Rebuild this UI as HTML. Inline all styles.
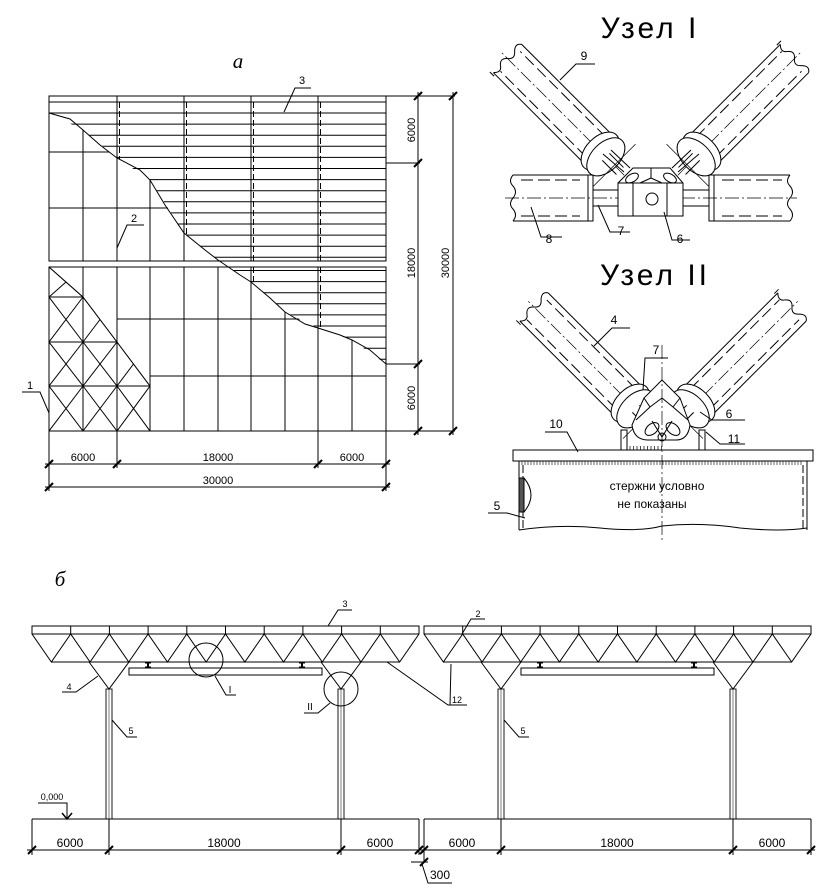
<!DOCTYPE html>
<html><head><meta charset="utf-8"><style>
html,body{margin:0;padding:0;background:#fff}
svg{display:block}
text{font-family:"Liberation Sans",sans-serif;fill:#000}
</style></head><body>
<svg id="s" width="839" height="892" viewBox="0 0 839 892" xmlns="http://www.w3.org/2000/svg" stroke="#000" fill="none" stroke-width="1">
<defs>
<clipPath id="cR"><polygon points="49,96 49,113 83,130 117,158 150,180 184,233 218,260 251,282 285,312 318,328 352,340 386,364 386,96"/></clipPath>
<clipPath id="cL"><polygon points="49,113 83,130 117,158 150,180 184,233 218,260 251,282 285,312 318,328 352,340 386,364 386,431 49,431"/></clipPath>
<clipPath id="cT"><polygon points="49,267 83,297 117,342 150,386 150,431 49,431"/></clipPath>
</defs>
<g id="plan"></g>
<g id="nodes"></g>
<g id="sect"></g>
<g stroke="none" font-size="11">
<text x="238" y="68" style="font-family:'Liberation Serif',serif;font-style:italic" font-size="21" text-anchor="middle">а</text>
<text x="302" y="84" text-anchor="middle">3</text>
<text x="134" y="222" text-anchor="middle">2</text>
<text x="30" y="389" text-anchor="middle">1</text>
<text x="83" y="461" text-anchor="middle">6000</text>
<text x="218" y="461" text-anchor="middle">18000</text>
<text x="352" y="461" text-anchor="middle">6000</text>
<text x="218" y="484" text-anchor="middle">30000</text>
<text transform="translate(415,130) rotate(-90)" text-anchor="middle">6000</text>
<text transform="translate(415,263) rotate(-90)" text-anchor="middle">18000</text>
<text transform="translate(415,398) rotate(-90)" text-anchor="middle">6000</text>
<text transform="translate(449,263) rotate(-90)" text-anchor="middle">30000</text>
<text x="650" y="38" font-size="30" text-anchor="middle" fill="#333" letter-spacing="3">Узел I</text>
<text x="655" y="285" font-size="30" text-anchor="middle" fill="#333" letter-spacing="3">Узел II</text>
<text x="584" y="60" font-size="12" text-anchor="middle">9</text>
<text x="549" y="243" font-size="12" text-anchor="middle">8</text>
<text x="621" y="235" font-size="12" text-anchor="middle">7</text>
<text x="680" y="243" font-size="12" text-anchor="middle">6</text>
<text x="614" y="324" font-size="12" text-anchor="middle">4</text>
<text x="656" y="354" font-size="12" text-anchor="middle">7</text>
<text x="729" y="418" font-size="12" text-anchor="middle">6</text>
<text x="734" y="443" font-size="12" text-anchor="middle">11</text>
<text x="556" y="428" font-size="12" text-anchor="middle">10</text>
<text x="497" y="510" font-size="12" text-anchor="middle">5</text>
<text x="657" y="490" font-size="12" text-anchor="middle">стержни условно</text>
<text x="652" y="508" font-size="12" text-anchor="middle">не показаны</text>
<text x="60" y="586" style="font-family:'Liberation Serif',serif;font-style:italic" font-size="21" text-anchor="middle">б</text>
<text x="345" y="607" font-size="9" text-anchor="middle">3</text>
<text x="478" y="617" font-size="9" text-anchor="middle">2</text>
<text x="69" y="690" font-size="9" text-anchor="middle">4</text>
<text x="131" y="734" font-size="9" text-anchor="middle">5</text>
<text x="523" y="734" font-size="9" text-anchor="middle">5</text>
<text x="230" y="693" font-size="10" text-anchor="middle">I</text>
<text x="310" y="710" font-size="10" text-anchor="middle">II</text>
<text x="457" y="703" font-size="9" text-anchor="middle">12</text>
<text x="52" y="800" font-size="9" text-anchor="middle">0,000</text>
<text x="70" y="847" font-size="12" text-anchor="middle">6000</text>
<text x="224" y="847" font-size="12" text-anchor="middle">18000</text>
<text x="380" y="847" font-size="12" text-anchor="middle">6000</text>
<text x="462" y="847" font-size="12" text-anchor="middle">6000</text>
<text x="617" y="847" font-size="12" text-anchor="middle">18000</text>
<text x="772" y="847" font-size="12" text-anchor="middle">6000</text>
<text x="440" y="879" font-size="12" text-anchor="middle">300</text>
</g>
</svg>
<script>
var NS="http://www.w3.org/2000/svg";
function el(p,tag,a){var e=document.createElementNS(NS,tag);for(var k in a)e.setAttribute(k,a[k]);p.appendChild(e);return e;}
function L(p,x1,y1,x2,y2,ex){var a={x1:x1,y1:y1,x2:x2,y2:y2};if(ex)for(var k in ex)a[k]=ex[k];return el(p,'line',a);}
function tick(p,x,y){L(p,x-4,y+4,x+4,y-4,{'stroke-width':2});}
var plan=document.getElementById('plan');
el(plan,'rect',{x:49,y:96,width:337,height:165});
el(plan,'rect',{x:49,y:267,width:337,height:164});
L(plan,49,102,386,102);
var gR=el(plan,'g',{'clip-path':'url(#cR)'});
for(var y=113;y<258;y+=11.1)L(gR,49,y,386,y);
for(var y=270.5;y<430;y+=11.1)L(gR,49,y,386,y);
[119.5,186.5,253.5,320.5].forEach(function(x){L(gR,x,102,x,261,{'stroke-dasharray':'6,3'});L(gR,x,267,x,431,{'stroke-dasharray':'6,3'});});
var gL=el(plan,'g',{'clip-path':'url(#cL)'});
[83,150,218,285,352].forEach(function(x){L(gL,x,96,x,261);L(gL,x,267,x,431);});
[152,208].forEach(function(y){L(gL,49,y,386,y);});
L(gL,117,319,386,319);L(gL,150,376,386,376);
[117,184,251,318].forEach(function(x){L(plan,x,96,x,261);L(plan,x,267,x,431);});
el(plan,'polyline',{points:"49,113 70,119 83,130 100,145 117,158 140,170 150,180 165,205 184,233 205,250 218,260 240,275 251,282 270,298 285,312 305,324 318,328 340,335 352,340 370,350 386,364"});
var gT=el(plan,'g',{'clip-path':'url(#cT)'});
var xs=[49,83,117,150],ys=[267,297,342,386,431];
for(var i=0;i<3;i++)for(var j=0;j<4;j++){L(gT,xs[i],ys[j],xs[i+1],ys[j+1]);L(gT,xs[i+1],ys[j],xs[i],ys[j+1]);}
[297,342,386].forEach(function(y){L(gT,49,y,150,y);});
el(plan,'polyline',{points:"49,267 83,297 117,342 150,386 150,431"});
el(plan,'polyline',{points:"284,112 295,88 311,88"});
el(plan,'polyline',{points:"117,248 127,225 144,225"});
el(plan,'polyline',{points:"49,413 40,392 22,392"});
[96,163,364,431].forEach(function(y){L(plan,386,y,420,y);tick(plan,418,y);});
L(plan,418,92,418,435);L(plan,386,96,455,96);L(plan,386,431,455,431);L(plan,453,92,453,435);tick(plan,453,96);tick(plan,453,431);
[49,117,318,386].forEach(function(x){L(plan,x,431,x,468);tick(plan,x,464);});
L(plan,45,464,390,464);L(plan,49,431,49,491);L(plan,386,431,386,491);L(plan,45,487,390,487);tick(plan,49,487);tick(plan,386,487);

var nd=document.getElementById('nodes');
function tube(cx,cy,deg,len){
 var g=el(nd,'g',{transform:'translate('+cx+','+cy+') rotate('+deg+')'});
 L(g,0,-20,len,-20);L(g,0,20,len,20);
 L(g,10,-14,len-4,-14,{'stroke-dasharray':'12,5'});L(g,10,14,len-4,14,{'stroke-dasharray':'12,5'});
 L(g,-30,0,len+8,0,{'stroke-dasharray':'14,3,2,3','stroke-width':0.7});
 el(g,'path',{d:'M'+len+',-20 q-6,6 0,10 q6,5 0,10 q-6,5 0,10 q6,6 0,10','fill':'#fff'});
 L(g,len-3,-22,len+3,-22);
 el(g,'ellipse',{cx:4,cy:0,rx:14,ry:23,fill:'#fff'});
 el(g,'ellipse',{cx:-4,cy:0,rx:14,ry:23,fill:'#fff'});
 L(g,-16,-30,-16,30,{'stroke-width':0.7});
 L(g,-4,-5,-24,-5);L(g,-4,5,-24,5);
}
tube(603,154,-135,135);tube(699,154,-45,135);
L(nd,603,154,624,172);L(nd,611,150,630,168);
L(nd,699,154,678,172);L(nd,691,150,672,168);
function htube(x1,x2,wavyX){
 L(nd,x1,175,x2,175);L(nd,x1,221,x2,221);
 L(nd,x1+8,180,x2-8,180,{'stroke-dasharray':'12,5'});L(nd,x1+8,216,x2-8,216,{'stroke-dasharray':'12,5'});
 el(nd,'path',{d:'M'+wavyX+',175 q-5,6 0,11 q5,6 0,12 q-5,6 0,11 q5,6 0,12'});
}
htube(513,588,513);htube(714,790,790);
el(nd,'rect',{x:588,y:175,width:5,height:46});el(nd,'rect',{x:709,y:175,width:5,height:46});
L(nd,593,190,618,190);L(nd,593,206,618,206);L(nd,683,190,709,190);L(nd,683,206,709,206);
L(nd,505,198,797,198,{'stroke-dasharray':'14,3,2,3','stroke-width':0.7});
el(nd,'polygon',{points:"633,168 670,168 683,183 683,216 618,216 618,183",fill:'#fff'});
L(nd,618,183,683,183);L(nd,633,183,633,216);L(nd,667,183,667,216);L(nd,651,168,651,178);L(nd,651,178,640,183);L(nd,651,178,662,183);
el(nd,'ellipse',{cx:632,cy:178,rx:7,ry:4,transform:'rotate(-30 632 178)'});
el(nd,'ellipse',{cx:670,cy:178,rx:7,ry:4,transform:'rotate(30 670 178)'});
el(nd,'circle',{cx:652,cy:199,r:6});
el(nd,'polyline',{points:"560,80 576,64 595,64"});
el(nd,'polyline',{points:"531,207 541,237 562,237"});
el(nd,'polyline',{points:"598,205 610,232 630,232"});
el(nd,'polyline',{points:"664,212 672,240 690,240"});
tube(633,406,-135,140);tube(693,406,-45,140);
el(nd,'path',{d:"M662,380 L680,398 L690,425 Q688,440 676,440 L648,440 Q634,440 632,425 L644,398 Z",fill:'#fff'});
L(nd,650,407,662,398);L(nd,673,407,662,398);L(nd,644,398,650,407);L(nd,680,398,673,407);
L(nd,636,420,650,407);L(nd,688,420,673,407);
el(nd,'ellipse',{cx:652,cy:429,rx:8,ry:5,transform:'rotate(-40 652 429)'});
el(nd,'ellipse',{cx:673,cy:429,rx:8,ry:5,transform:'rotate(40 673 429)'});
el(nd,'circle',{cx:662,cy:437,r:4});
L(nd,652,421,662,437);L(nd,672,421,662,437);
el(nd,'rect',{x:621,y:430,width:6,height:20});el(nd,'rect',{x:699,y:430,width:6,height:20});
el(nd,'rect',{x:513,y:450,width:300,height:11,fill:'#fff'});
for(var x=630;x<665;x+=3.5)L(nd,x,446,x,450,{'stroke-width':0.7});
for(var x=522;x<804;x+=3)L(nd,x,461,x,465,{'stroke-width':0.6});
L(nd,519,461,519,530);L(nd,807,461,807,530);
L(nd,523,465,523,528,{'stroke-dasharray':'8,3'});L(nd,803,465,803,528,{'stroke-dasharray':'8,3'});
el(nd,'path',{d:"M519,530 Q560,524 600,528 Q640,532 662,526 Q700,522 740,528 Q780,532 807,528"});
el(nd,'path',{d:"M519,478 L524,478 L524,512 L519,512 Z",fill:'#555'});
el(nd,'path',{d:"M524,478 Q538,495 524,512"});
L(nd,662,345,662,540,{'stroke-dasharray':'14,3,2,3','stroke-width':0.7});
el(nd,'polyline',{points:"594,346 612,328 630,328"});
el(nd,'polyline',{points:"643,390 645,358 668,358"});
el(nd,'polyline',{points:"700,412 712,420 745,420"});
el(nd,'polyline',{points:"706,432 720,444 745,444"});
el(nd,'polyline',{points:"578,452 567,432 545,432"});
el(nd,'polyline',{points:"525,518 507,513 488,513"});

var sc=document.getElementById('sect');
function truss(x0,x1){
 var w=(x1-x0)/10;
 el(sc,'rect',{x:x0,y:626,width:x1-x0,height:8});
 for(var i=1;i<10;i++)L(sc,x0+w*i,626,x0+w*i,634);
 var pts=[];
 for(var i=0;i<=10;i++){pts.push((x0+w*i)+',634');if(i<10)pts.push((x0+w*i+w/2)+',662');}
 el(sc,'polyline',{points:pts.join(' ')});
 L(sc,x0+w/2,662,x1-w/2,662);
}
function bay(dx){
 truss(32+dx,419+dx);
 var c1=109+dx,c2=341+dx;
 el(sc,'polyline',{points:(c1-20)+',662 '+c1+',689 '+(c1+20)+',662'});
 el(sc,'polyline',{points:(c2-20)+',662 '+c2+',689 '+(c2+20)+',662'});
 el(sc,'rect',{x:c1-3,y:689,width:6,height:130,'stroke-width':0.9});L(sc,c1,689,c1,819,{'stroke-width':0.5});
 el(sc,'rect',{x:c2-3,y:689,width:6,height:130,'stroke-width':0.9});L(sc,c2,689,c2,819,{'stroke-width':0.5});
 el(sc,'rect',{x:129+dx,y:668,width:193,height:7});
 [148+dx,302+dx].forEach(function(x){L(sc,x,662,x,668,{'stroke-width':2});L(sc,x-3,663,x+3,663);L(sc,x-3,667,x+3,667);});
 L(sc,32+dx,819,419+dx,819);
 [32+dx,c1,c2,419+dx].forEach(function(x){L(sc,x,819,x,855);tick(sc,x,850);});
 L(sc,27+dx,850,423+dx,850);
}
bay(0);bay(392);
L(sc,411,850,428,850);tick(sc,424,862);L(sc,411,862,428,862);L(sc,424,850,424,862);
el(sc,'polyline',{points:"422,864 428,883 452,883"});
el(sc,'circle',{cx:206,cy:660,r:17});el(sc,'circle',{cx:341,cy:689,r:17});
el(sc,'polyline',{points:"215,676 226,695 236,695"});
el(sc,'polyline',{points:"330,703 318,713 304,713"});
el(sc,'polyline',{points:"98,676 76,692 62,692"});
el(sc,'polyline',{points:"112,720 127,737 137,737"});
el(sc,'polyline',{points:"504,720 519,737 529,737"});
el(sc,'polyline',{points:"328,626 338,610 352,610"});
el(sc,'polyline',{points:"462,634 471,619 485,619"});
el(sc,'polyline',{points:"387,662 448,705 467,705"});
L(sc,451,664,450,705);
el(sc,'polyline',{points:"38,803 67,803 67,819"});
el(sc,'polyline',{points:"62,813 67,819 72,813",'stroke-width':1.5});
</script>
</body></html>
